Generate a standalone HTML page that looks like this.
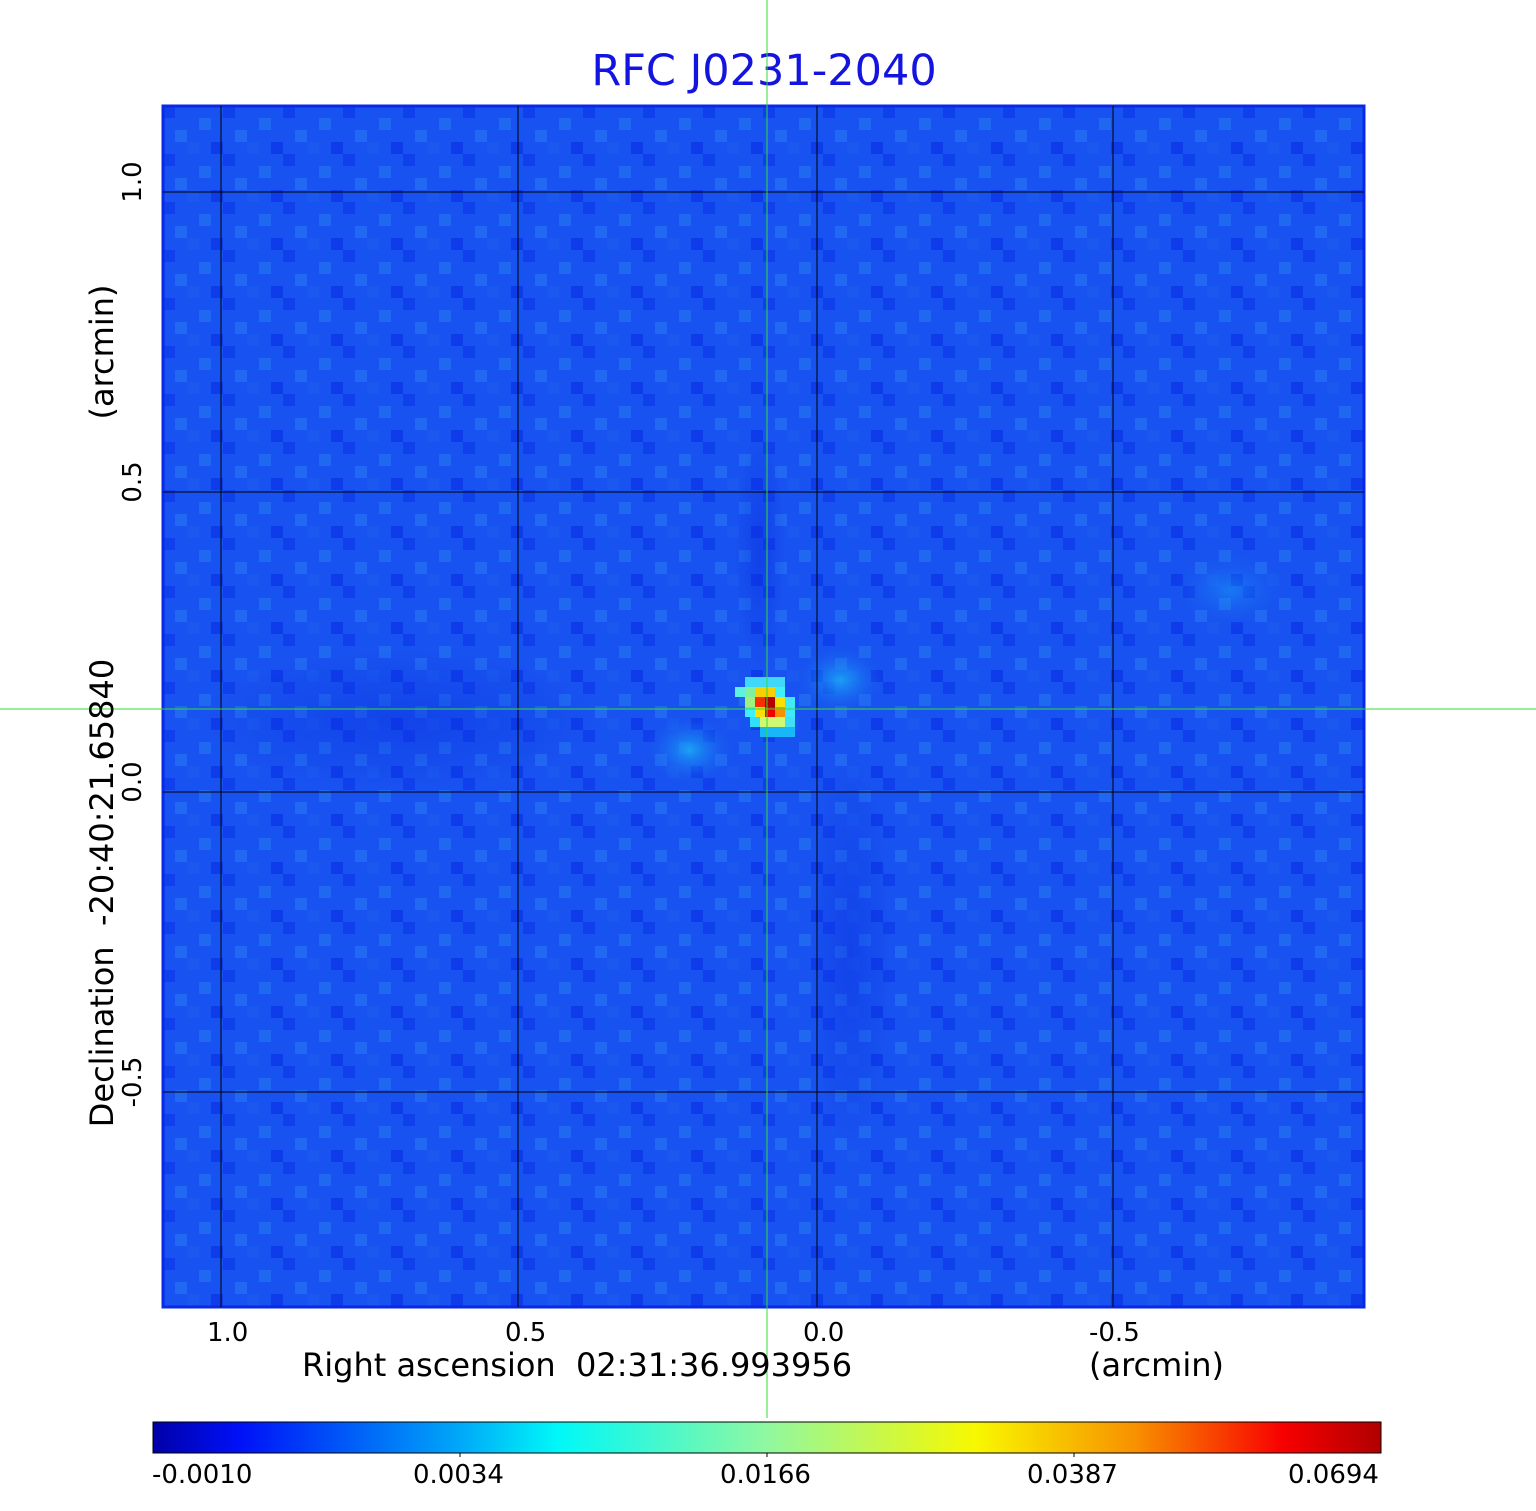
<!DOCTYPE html>
<html><head><style>
body{margin:0;background:#fff;width:1536px;height:1511px;position:relative;overflow:hidden;font-family:"DejaVu Sans","Liberation Sans",sans-serif;}
.a{position:absolute;}
.t{position:absolute;white-space:nowrap;color:#000;}
</style></head><body>
<div class="t" style="left:0;width:1528px;text-align:center;top:46px;font-size:43px;color:#1414e0;">RFC J0231-2040</div>
<svg class="a" style="left:0;top:0" width="1536" height="1511">
<defs>
<radialGradient id="g1"><stop offset="0" stop-color="#19a8f5" stop-opacity="0.9"/><stop offset="1" stop-color="#1a5af0" stop-opacity="0"/></radialGradient>
<radialGradient id="g2"><stop offset="0" stop-color="#0a2ee0" stop-opacity="0.7"/><stop offset="1" stop-color="#0a2ee0" stop-opacity="0"/></radialGradient>
<pattern id="nz" width="60" height="48" patternUnits="userSpaceOnUse" x="163" y="106">
<rect width="60" height="48" fill="#1852f0"/>
<rect x="0" y="0" width="12" height="12" fill="#1040ec"/>
<rect x="36" y="12" width="12" height="12" fill="#2068f2"/>
<rect x="12" y="24" width="12" height="12" fill="#2268f2"/>
<rect x="48" y="36" width="12" height="12" fill="#0e3cea"/>
<rect x="24" y="36" width="12" height="12" fill="#1a58f0"/>
</pattern>
<linearGradient id="cb" x1="0" x2="1">
<stop offset="0" stop-color="#0000a8"/><stop offset="0.07" stop-color="#0010f8"/><stop offset="0.25" stop-color="#00a8f8"/><stop offset="0.33" stop-color="#00f8f8"/><stop offset="0.5" stop-color="#90f8a0"/><stop offset="0.67" stop-color="#f8f800"/><stop offset="0.8" stop-color="#f89000"/><stop offset="0.92" stop-color="#f80000"/><stop offset="1" stop-color="#b00000"/>
</linearGradient>
</defs>
<rect x="163" y="106" width="1201" height="1201" fill="url(#nz)" stroke="#0a28e8" stroke-width="3"/>
<ellipse cx="840" cy="680" rx="45" ry="35" fill="url(#g1)"/>
<ellipse cx="690" cy="750" rx="45" ry="35" fill="url(#g1)"/>
<ellipse cx="1230" cy="590" rx="60" ry="40" fill="url(#g1)" opacity="0.5"/>
<ellipse cx="400" cy="720" rx="200" ry="70" fill="url(#g2)" opacity="0.6"/>
<ellipse cx="850" cy="950" rx="40" ry="200" fill="url(#g2)" opacity="0.6"/>
<ellipse cx="760" cy="550" rx="25" ry="120" fill="url(#g2)" opacity="0.7"/>
<g>
<rect x="745" y="677" width="40" height="10" fill="#40d8f8"/>
<rect x="735" y="687" width="10" height="10" fill="#60f0e0"/>
<rect x="745" y="687" width="10" height="10" fill="#80f0a0"/>
<rect x="755" y="687" width="20" height="10" fill="#f8d000"/>
<rect x="775" y="687" width="10" height="10" fill="#40f0f8"/>
<rect x="745" y="697" width="10" height="10" fill="#a0f080"/>
<rect x="755" y="697" width="10" height="10" fill="#f83000"/>
<rect x="765" y="697" width="10" height="10" fill="#b00000"/>
<rect x="775" y="697" width="10" height="10" fill="#f8e000"/>
<rect x="785" y="697" width="10" height="10" fill="#40e8f8"/>
<rect x="745" y="707" width="10" height="10" fill="#40f0f8"/>
<rect x="755" y="707" width="10" height="10" fill="#f8e000"/>
<rect x="765" y="707" width="10" height="10" fill="#f00000"/>
<rect x="775" y="707" width="10" height="10" fill="#f89000"/>
<rect x="785" y="707" width="10" height="10" fill="#40e8f8"/>
<rect x="750" y="717" width="10" height="10" fill="#30e0f8"/>
<rect x="760" y="717" width="25" height="10" fill="#d0f870"/>
<rect x="785" y="717" width="10" height="10" fill="#40e0f8"/>
<rect x="760" y="727" width="35" height="10" fill="#18b8f8"/>
</g>
<g stroke="#000" stroke-width="1">
<line x1="221" y1="106" x2="221" y2="1307"/><line x1="518" y1="106" x2="518" y2="1307"/>
<line x1="817" y1="106" x2="817" y2="1307"/><line x1="1113" y1="106" x2="1113" y2="1307"/>
<line x1="163" y1="192" x2="1364" y2="192"/><line x1="163" y1="492" x2="1364" y2="492"/>
<line x1="163" y1="792" x2="1364" y2="792"/><line x1="163" y1="1092" x2="1364" y2="1092"/>
</g>
<rect x="153" y="1422" width="1228" height="31" fill="url(#cb)" stroke="#000" stroke-width="1"/>
<g stroke="#000"><line x1="460" y1="1453" x2="460" y2="1457"/><line x1="767" y1="1453" x2="767" y2="1457"/><line x1="1074" y1="1453" x2="1074" y2="1457"/></g>
<g stroke="#33dd33" stroke-width="1"><line x1="767" y1="0" x2="767" y2="1418"/><line x1="0" y1="709" x2="1536" y2="709"/></g>
</svg>
<div class="t" style="left:207px;top:1318px;font-size:26px;">1.0</div>
<div class="t" style="left:505px;top:1318px;font-size:26px;">0.5</div>
<div class="t" style="left:803px;top:1318px;font-size:26px;">0.0</div>
<div class="t" style="left:1089px;top:1318px;font-size:26px;">-0.5</div>
<div class="t" style="left:302px;top:1346px;font-size:32px;">Right ascension&nbsp; 02:31:36.993956</div>
<div class="t" style="left:1089px;top:1346px;font-size:32px;">(arcmin)</div>
<div class="t" style="left:152px;top:1460px;font-size:26px;">-0.0010</div>
<div class="t" style="left:413px;top:1460px;font-size:26px;">0.0034</div>
<div class="t" style="left:720px;top:1460px;font-size:26px;">0.0166</div>
<div class="t" style="left:1027px;top:1460px;font-size:26px;">0.0387</div>
<div class="t" style="left:1288px;top:1460px;font-size:26px;">0.0694</div>
<div class="t" style="left:133px;top:182px;font-size:26px;transform:translate(-50%,-50%) rotate(-90deg);">1.0</div>
<div class="t" style="left:133px;top:482px;font-size:26px;transform:translate(-50%,-50%) rotate(-90deg);">0.5</div>
<div class="t" style="left:133px;top:782px;font-size:26px;transform:translate(-50%,-50%) rotate(-90deg);">0.0</div>
<div class="t" style="left:133px;top:1082px;font-size:26px;transform:translate(-50%,-50%) rotate(-90deg);">-0.5</div>
<div class="t" style="left:102px;top:893px;font-size:32px;transform:translate(-50%,-50%) rotate(-90deg);">Declination&nbsp; -20:40:21.65840</div>
<div class="t" style="left:102px;top:352px;font-size:32px;transform:translate(-50%,-50%) rotate(-90deg);">(arcmin)</div>
</body></html>
